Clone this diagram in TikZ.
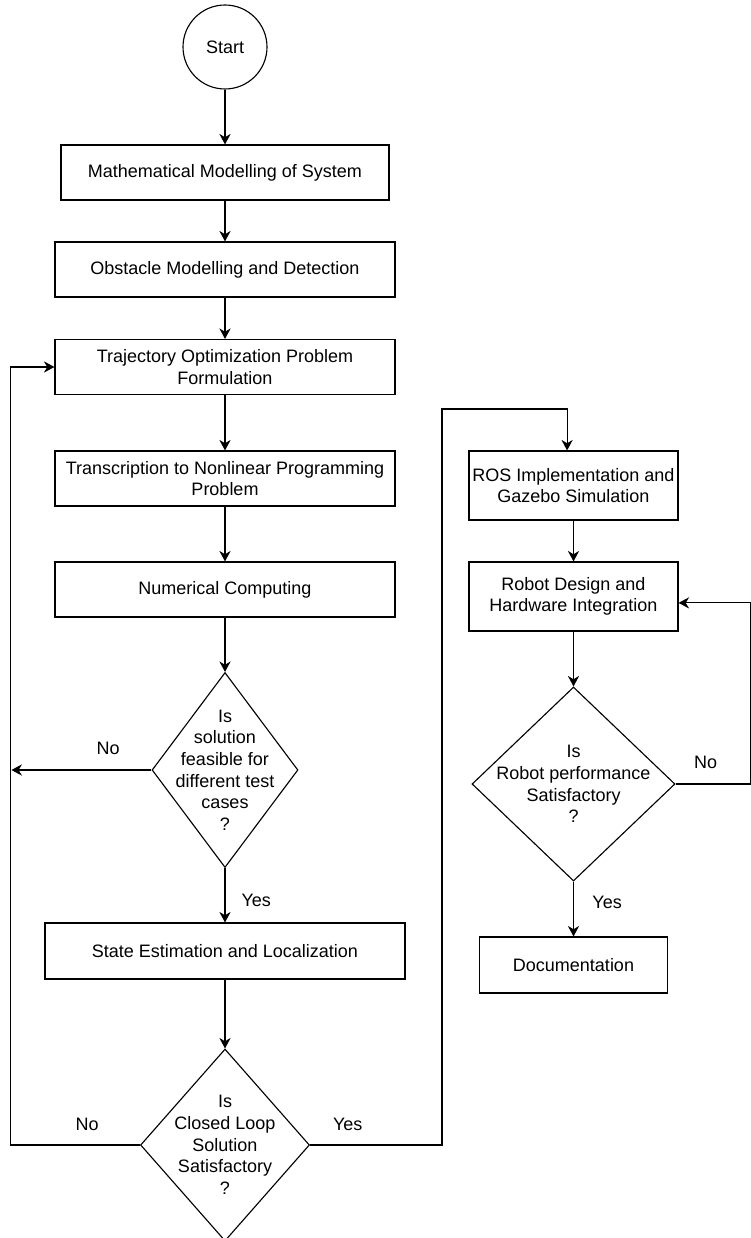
\documentclass[tikz,border=0pt]{standalone}
\usepackage{fontspec}
\setmainfont{Liberation Sans}
\usetikzlibrary{shapes.geometric, arrows.meta, positioning}

\begin{document}
\begin{tikzpicture} [
    node distance = 2.5cm,
    on grid,
    font=\fontsize{12.8pt}{15.4pt}\selectfont,
    process/.style={draw, thick, rectangle, minimum width=8.5cm,
        minimum height=1.375cm, align=center, inner sep=2pt},
    decision/.style={draw, thick, diamond, inner sep=0pt},
    flow/.style={thick, -{Stealth[length=7.5pt, width=8pt]}}]

% Page frame
\useasboundingbox (0,0) rectangle (18.775,-30.95);

% Start
\node (start) [circle, draw, thick, minimum size=2.1cm] at (5.625,-1.175) {Start};

% Left column
\node (model) [process, minimum width=8.2cm,
    below = 3.1375cm of start] {Mathematical Modelling of System};

\node (obstacle) [process,
    below = 2.425cm of model] {Obstacle Modelling and Detection};

\node (trajopt) [process,
    below = 2.4375cm of obstacle] {Trajectory Optimization Problem\\Formulation};

\node (nlp) [process,
    below = 2.7875cm of trajopt] {Transcription to Nonlinear Programming\\Problem};

\node (numeric) [process,
    below = 2.775cm of nlp] {Numerical Computing};

\node (feasible) [decision, minimum width=3.65cm, minimum height=4.875cm,
    below = 4.5125cm of numeric,
    label={[align=center]center:{Is\\solution\\feasible for\\different test\\cases\\?}}] {};

\node (estimate) [process, minimum width=9cm, minimum height=1.4cm,
    below = 4.525cm of feasible] {State Estimation and Localization};

\node (closedloop) [decision, minimum width=4.225cm, minimum height=4.8cm,
    below = 4.85cm of estimate,
    label={[align=center]center:{Is\\Closed Loop\\Solution\\Satisfactory\\?}}] {};

% Right column
\node (ros) [process, minimum width=5.225cm, minimum height=1.725cm,
    below right = 0.175cm and 8.7125cm of nlp] {ROS Implementation and\\Gazebo Simulation};

\node (robot) [process, minimum width=5.225cm, minimum height=1.725cm,
    below = 2.775cm of ros] {Robot Design and\\Hardware Integration};

\node (perform) [decision, minimum width=5.075cm, minimum height=4.85cm,
    below = 4.6875cm of robot,
    label={[align=center]center:{Is\\Robot performance\\Satisfactory\\?}}] {};

\node (doc) [process, minimum width=4.7cm, minimum height=1.4cm,
    below = 4.525cm of perform] {Documentation};

% Loose ends
\coordinate (feasno) at ([xshift=-3.5cm]feasible.west);
\coordinate (closedno) at ([xshift=-3.225cm]closedloop.west);
\coordinate (closedyes) at (11.05,-10.225);
\coordinate (performno) at ([xshift=1.875cm]perform.east);

% Arrows
\draw [flow] (start) -- (model);
\draw [flow] (model) -- (obstacle);
\draw [flow] (obstacle) -- (trajopt);
\draw [flow] (trajopt) -- (nlp);
\draw [flow] (nlp) -- (numeric);
\draw [flow] (numeric) -- (feasible);
\draw [flow] (feasible.west) -- node[pos=0.31, yshift=0.55cm] {No} (feasno);
\draw [flow] (feasible) -- node[pos=0.6, xshift=0.78cm] {Yes} (estimate);
\draw [flow] (estimate) -- (closedloop);
\draw [flow] (closedloop.west) -- node[pos=0.41, yshift=0.525cm] {No} (closedno)
    |- (trajopt.west);
\draw [flow] (closedloop.east) -- node[pos=0.286, yshift=0.525cm] {Yes} (closedloop.east -| closedyes)
    -- (closedyes) -| ([xshift=-0.16cm]ros.north);
\draw [flow] (ros) -- (robot);
\draw [flow] (robot) -- (perform);
\draw [flow] (perform.east) -- node[pos=0.4, yshift=0.55cm] {No} (performno)
    |- ([yshift=-0.16cm]robot.east);
\draw [flow] (perform) -- node[pos=0.375, xshift=0.84cm] {Yes} (doc);
\end{tikzpicture}
\end{document}
